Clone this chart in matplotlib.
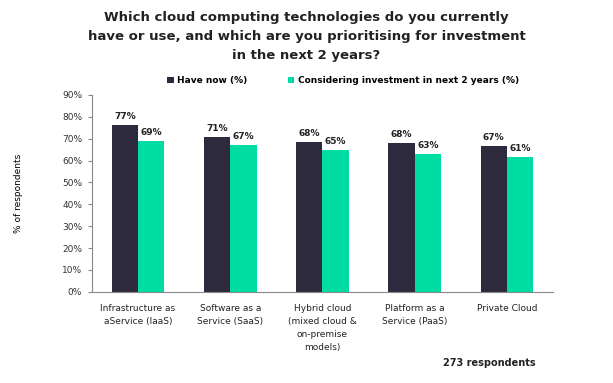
import numpy as np
import matplotlib.pyplot as plt

categories = ["Infrastructure as\naService (IaaS)", "Software as a\nService (SaaS)",
              "Hybrid cloud\n(mixed cloud &\non-premise\nmodels)", "Platform as a\nService (PaaS)",
              "Private Cloud"]
have_now = [77, 71, 68, 68, 67]
have_now_pos = [76.5, 71, 68.5, 68, 66.5]
considering = [69, 67, 65, 63, 61]
considering_pos = [69, 67, 65, 63, 61.5]

dark = "#2d2a3e"
green = "#00dda3"

fig = plt.figure(figsize=(6.13, 3.83), dpi=100)
ax = fig.add_axes([0.150, 0.238, 0.752, 0.514])

x = np.arange(len(categories))
w = 0.285
b1 = ax.bar(x - w / 2, have_now_pos, w, color=dark, label="Have now (%)")
b2 = ax.bar(x + w / 2, considering_pos, w, color=green, label="Considering investment in next 2 years (%)")

# value labels above each bar
for xi, h, v in zip(x - w / 2, have_now_pos, have_now):
    ax.text(xi, h + 1.8, f"{v}%", ha="center", va="bottom", fontsize=6.5, fontweight="bold", color="#222222")
for xi, h, v in zip(x + w / 2, considering_pos, considering):
    ax.text(xi, h + 1.8, f"{v}%", ha="center", va="bottom", fontsize=6.5, fontweight="bold", color="#222222")

ax.set_xlim(-0.5, 4.5)
ax.set_ylim(0, 90)
ax.set_yticks(np.arange(0, 91, 10))
ax.set_yticklabels([f"{t}%" for t in range(0, 91, 10)], fontsize=6.5, color="#333333")
ax.set_xticks(x)
ax.set_xticklabels(categories, fontsize=6.5, color="#222222", linespacing=1.55)
ax.tick_params(axis="x", length=0, pad=9)
ax.tick_params(axis="y", length=3, color="#888888", pad=4)
for s in ["top", "right"]:
    ax.spines[s].set_visible(False)
for s in ["left", "bottom"]:
    ax.spines[s].set_color("#888888")
    ax.spines[s].set_linewidth(0.8)

ax.set_ylabel("% of respondents", fontsize=6.5, labelpad=28)

fig.text(0.5, 0.972, "Which cloud computing technologies do you currently\n"
         "have or use, and which are you prioritising for investment\nin the next 2 years?",
         ha="center", va="top", fontsize=9.5, fontweight="bold", linespacing=1.6, color="#222222")

fig.legend(handles=[b1, b2], loc="center", bbox_to_anchor=(0.56, 0.79), ncol=2, frameon=False,
           fontsize=6.5, handlelength=0.7, handleheight=0.7, handletextpad=0.4, columnspacing=4.5)
for t in fig.legends[0].get_texts():
    t.set_fontweight("bold")

fig.text(0.723, 0.045, "273 respondents", fontsize=7, fontweight="bold", color="#222222")

fig.savefig("out.png", dpi=100)
